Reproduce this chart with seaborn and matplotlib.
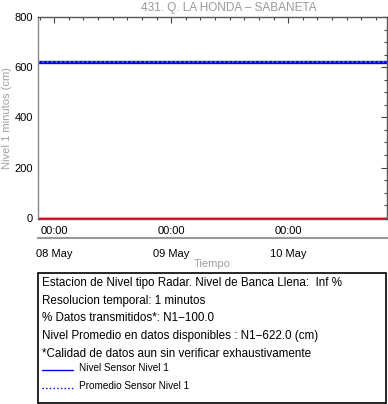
import pandas as pd
import numpy as np
import seaborn as sns
import matplotlib.pyplot as plt
import matplotlib.dates as mdates
from matplotlib.lines import Line2D
from matplotlib.patches import Rectangle
from matplotlib.ticker import MultipleLocator

# data
times = pd.date_range("2024-05-07 20:40", "2024-05-10 20:10", freq="30min")
nivel = [622.0] * len(times)
promedio = 622.0
banca = 0.0
title = "431. Q. LA HONDA \u2013 SABANETA"
info_lines = ["Estacion de Nivel tipo Radar. Nivel de Banca Llena:  Inf %",
              "Resolucion temporal: 1 minutos",
              "% Datos transmitidos*: N1\u2212100.0",
              "Nivel Promedio en datos disponibles : N1\u2212622.0 (cm)",
              "*Calidad de datos aun sin verificar exhaustivamente"]
legend_labels = ["Nivel Sensor Nivel 1", "Promedio Sensor Nivel 1"]

sns.set_theme(style="white")
plt.rcParams['font.family'] = ['Liberation Sans', 'DejaVu Sans']

df = pd.DataFrame({"Tiempo": times, "Nivel": nivel})

fig = plt.figure(figsize=(3.88, 4.04), dpi=100)
W, H = 388, 404
ax = fig.add_axes([38 / W, 1 - 219 / H, 348.5 / W, 202 / H])

sns.lineplot(data=df, x="Tiempo", y="Nivel", color="#0000ff", linewidth=2.4, ax=ax)
ax.axhline(promedio, color="#7070ff", ls=":", lw=1.2)
ax.axhline(banca, color="#f6b0b0", lw=2.2)
ax.axhline(banca, color="#e00000", lw=0.9)

ax.set_xlim(times[0], times[-1])
ax.set_ylim(-5, 800)
ax.set_yticks([0, 200, 400, 600, 800])
ax.yaxis.set_minor_locator(MultipleLocator(50))
ax.xaxis.set_major_locator(mdates.DayLocator())
ax.xaxis.set_major_formatter(mdates.DateFormatter("%H:%M"))
ax.xaxis.set_minor_locator(mdates.HourLocator(byhour=range(0, 24, 3)))
ax.tick_params(axis="both", which="both", direction="in", top=True, right=True,
               colors="#444444", labelcolor="black", labelsize=8)
ax.tick_params(which="major", length=4, width=0.8)
ax.tick_params(which="minor", length=2, width=0.8)
ax.tick_params(axis="x", pad=5)
for s in ax.spines.values():
    s.set_color("#555555")
    s.set_linewidth(1)
ax.spines["left"].set_color("#888888")
ax.set_xlabel("")
ax.set_ylabel("Nivel 1 minutos (cm)", color="#a0a0a0", fontsize=8, labelpad=2)
ax.set_title("")
fig.text(229 / W, 1 - 8 / H, title, color="#999999", fontsize=8.5, ha="center", va="center")

# second date axis under the hours
ax2 = fig.add_axes([38 / W, 1 - 238 / H, 348.5 / W, 0.001])
ax2.set_xlim(times[0], times[-1])
ax2.set_yticks([])
for k in ["top", "left", "right"]:
    ax2.spines[k].set_visible(False)
ax2.spines["bottom"].set_color("#999999")
ax2.spines["bottom"].set_linewidth(1.5)
ax2.xaxis.set_major_locator(mdates.DayLocator())
ax2.xaxis.set_major_formatter(mdates.DateFormatter("%d %b"))
ax2.tick_params(axis="x", direction="in", length=4, colors="#444444",
                labelcolor="black", labelsize=8, pad=8)
ax2.set_xlabel("Tiempo", color="#a0a0a0", fontsize=8, labelpad=0)
ax2.patch.set_visible(False)

# info box
fig.patches.append(Rectangle((37.5 / W, 1 - 403 / H), 348 / W, 130 / H,
                             transform=fig.transFigure, fill=False,
                             edgecolor="black", lw=1.2))
rows = [283, 301, 318, 336, 354]
for y, t in zip(rows, info_lines):
    fig.text(42 / W, 1 - y / H, t, fontsize=8.4, va="center", color="black")
for y, lab, ls in zip([368, 386], legend_labels, ["-", ":"]):
    fig.lines.append(Line2D([42 / W, 73 / W], [1 - (y + 2) / H, 1 - (y + 2) / H],
                            transform=fig.transFigure, color="#0000ff", ls=ls, lw=1))
    fig.text(79 / W, 1 - y / H, lab, fontsize=7.2, va="center", color="black")

plt.savefig("out.png", dpi=100)
